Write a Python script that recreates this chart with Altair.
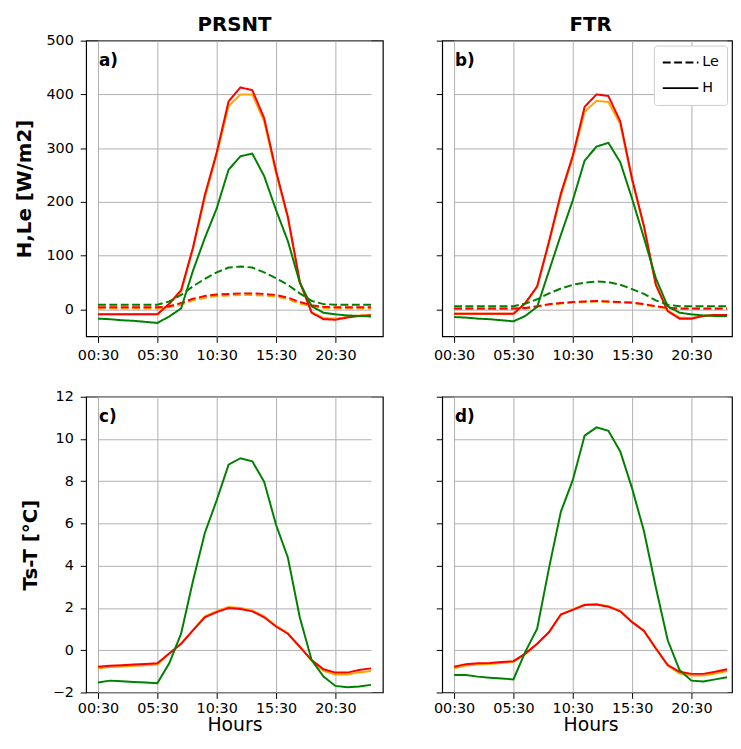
import altair as alt
import pandas as pd

hours = ["00:30", "01:30", "02:30", "03:30", "04:30", "05:30", "06:30", "07:30",
         "08:30", "09:30", "10:30", "11:30", "12:30", "13:30", "14:30", "15:30",
         "16:30", "17:30", "18:30", "19:30", "20:30", "21:30", "22:30", "23:30"]
tick_hours = ["00:30", "05:30", "10:30", "15:30", "20:30"]
series = ["orange", "red", "green"]
series_colors = ["orange", "red", "green"]
kinds = ["Le", "H"]

# Panel a (PRSNT) fluxes
H_a = {
    "orange": [-9, -9, -9, -9, -9, -9, 10, 33, 113, 208, 288, 378, 400, 400, 350, 253, 170, 50, -5, -16, -17, -14, -11, -10],
    "red":    [-9, -9, -9, -9, -9, -9, 11, 36, 115, 213, 292, 387, 413, 408, 356, 258, 172, 52, -6, -18, -19, -15, -12, -11],
    "green":  [-17, -18, -20, -21, -23, -25, -13, 2, 72, 133, 188, 260, 285, 290, 248, 185, 127, 50, 6, -6, -9, -11, -12, -13],
}
Le_a = {
    "orange": [2, 2, 2, 2, 2, 2, 4, 9, 17, 22, 25, 26, 27, 27, 26, 24, 19, 11, 6, 3, 2, 2, 2, 2],
    "red":    [4, 4, 4, 4, 4, 4, 6, 12, 20, 25, 28, 29, 30, 30, 29, 27, 22, 14, 8, 5, 4, 4, 4, 4],
    "green":  [9, 9, 9, 9, 9, 9, 15, 27, 43, 57, 69, 78, 80, 78, 69, 58, 46, 30, 16, 10, 9, 9, 9, 9],
}
# Panel b (FTR) fluxes
H_b = {
    "orange": [-8, -8, -8, -8, -8, -8, 11, 42, 124, 212, 282, 368, 388, 386, 345, 240, 153, 46, -2, -15, -16, -12, -10, -10],
    "red":    [-8, -8, -8, -8, -8, -8, 12, 43, 127, 216, 286, 377, 400, 397, 350, 243, 155, 46, -3, -17, -17, -12, -10, -10],
    "green":  [-14, -15, -17, -18, -20, -22, -12, 5, 72, 139, 203, 277, 303, 310, 274, 206, 133, 58, 6, -6, -9, -11, -12, -12],
}
Le_b = {
    "orange": [1, 1, 1, 1, 1, 1, 2, 5, 9, 11, 13, 14, 15, 14, 13, 12, 9, 5, 2, 1, 1, 1, 1, 1],
    "red":    [2, 2, 2, 2, 2, 2, 3, 6, 10, 12, 14, 15, 16, 15, 14, 13, 10, 6, 3, 2, 2, 2, 2, 2],
    "green":  [6, 6, 6, 6, 6, 6, 11, 19, 30, 39, 46, 50, 52, 51, 46, 38, 29, 17, 9, 6, 6, 6, 6, 6],
}
# Panel c (PRSNT) Ts-T
T_c = {
    "orange": [-0.85, -0.80, -0.77, -0.74, -0.71, -0.68, -0.15, 0.30, 0.95, 1.60, 1.85, 2.05, 2.00, 1.88, 1.60, 1.15, 0.80, 0.18, -0.50, -0.98, -1.15, -1.15, -1.05, -0.98],
    "red":    [-0.78, -0.74, -0.71, -0.68, -0.65, -0.62, -0.15, 0.31, 0.94, 1.56, 1.80, 2.00, 1.95, 1.84, 1.56, 1.12, 0.78, 0.16, -0.47, -0.90, -1.06, -1.06, -0.94, -0.86],
    "green":  [-1.53, -1.44, -1.47, -1.50, -1.53, -1.56, -0.62, 0.78, 3.28, 5.55, 7.10, 8.78, 9.09, 8.94, 7.97, 5.94, 4.38, 1.56, -0.47, -1.25, -1.69, -1.75, -1.72, -1.64],
}
# Panel d (FTR) Ts-T
T_d = {
    "orange": [-0.85, -0.72, -0.68, -0.65, -0.60, -0.55, -0.18, 0.30, 0.85, 1.70, 1.93, 2.17, 2.18, 2.08, 1.86, 1.35, 0.92, 0.10, -0.72, -1.10, -1.20, -1.20, -1.10, -0.98],
    "red":    [-0.78, -0.66, -0.62, -0.60, -0.56, -0.52, -0.16, 0.31, 0.86, 1.69, 1.91, 2.14, 2.16, 2.06, 1.84, 1.33, 0.91, 0.08, -0.70, -1.02, -1.12, -1.12, -1.02, -0.90],
    "green":  [-1.17, -1.17, -1.25, -1.30, -1.34, -1.38, -0.08, 1.02, 3.90, 6.56, 8.05, 10.16, 10.55, 10.39, 9.41, 7.66, 5.63, 2.97, 0.47, -0.94, -1.44, -1.48, -1.38, -1.28],
}

panel_titles = ["PRSNT", "FTR"]
panel_labels = ["a)", "b)", "c)", "d)"]
flux_ticks = [0, 100, 200, 300, 400, 500]
temp_ticks = [-2, 0, 2, 4, 6, 8, 10, 12]

FONT = "DejaVu Sans"
W, H = 300, 299          # left panels
W_RIGHT = 293            # right panels are cut by the page edge, as in the original
X_RANGE = [12, 288]      # same hour positions in every panel

color_scale = alt.Scale(domain=series, range=series_colors)
dash_scale = alt.Scale(domain=kinds, range=[[8, 3.5], [1, 0]])


def x_enc(bottom):
    return alt.X("hour:N", sort=hours,
                 scale=alt.Scale(type="point", domain=hours, range=X_RANGE, padding=0),
                 axis=alt.Axis(values=tick_hours, labelAngle=0, grid=True,
                               title="Hours" if bottom else None,
                               titleFontWeight="normal", titleFontSize=19,
                               titlePadding=1, labelPadding=3 if bottom else 6))


def text_layer(text, x, y, size, align):
    return alt.Chart(pd.DataFrame({"t": [text]})).mark_text(
        align=align, baseline="alphabetic", font=FONT, fontSize=size,
        fontWeight="bold", color="black").encode(
        text="t:N", x=alt.value(x), y=alt.value(y))


def flux_panel(Hd, Led, label, title, left, legend, width):
    layers = []
    for s in series:
        rows = []
        for k, d in (("Le", Led), ("H", Hd)):
            for h, v in zip(hours, d[s]):
                rows.append({"hour": h, "value": v, "series": s, "kind": k})
        df = pd.DataFrame(rows)
        if legend:
            leg = alt.Legend(title=None, orient="none", legendX=214, legendY=5,
                             symbolType="stroke", symbolSize=1296,
                             symbolStrokeWidth=2, symbolStrokeColor="black",
                             clipHeight=18, rowPadding=8, padding=8,
                             labelOffset=3, labelFont=FONT, labelFontSize=14.5,
                             labelColor="black", fillColor="white",
                             strokeColor="#cccccc", cornerRadius=3)
        else:
            leg = None
        layers.append(alt.Chart(df).mark_line(strokeWidth=2).encode(
            x=x_enc(False),
            y=alt.Y("value:Q", scale=alt.Scale(domain=[-50, 500], nice=False, zero=False),
                    axis=alt.Axis(values=flux_ticks, grid=True, labels=left,
                                  title="H,Le [W/m2]" if left else None,
                                  titleFontWeight="bold", titleFontSize=20,
                                  titlePadding=12, labelPadding=7)),
            color=alt.Color("series:N", scale=color_scale, legend=None),
            strokeDash=alt.StrokeDash("kind:N", scale=dash_scale, legend=leg),
            detail="kind:N",
        ))
    layers.append(text_layer(label, 13, 26, 17, "left"))
    layers.append(text_layer(title, 150, -10, 20, "center"))
    return alt.layer(*layers).properties(width=width, height=H)


def temp_panel(Td, label, left, width):
    layers = []
    for s in series:
        df = pd.DataFrame({"hour": hours, "value": Td[s], "series": s})
        layers.append(alt.Chart(df).mark_line(strokeWidth=2).encode(
            x=x_enc(True),
            y=alt.Y("value:Q", scale=alt.Scale(domain=[-2, 12], nice=False, zero=False),
                    axis=alt.Axis(values=temp_ticks, grid=True, labels=left,
                                  title="Ts-T [°C]" if left else None,
                                  titleFontWeight="bold", titleFontSize=20,
                                  titlePadding=12, labelPadding=7)),
            color=alt.Color("series:N", scale=color_scale, legend=None),
        ))
    layers.append(text_layer(label, 13, 26, 17, "left"))
    return alt.layer(*layers).properties(width=width, height=H)


pa = flux_panel(H_a, Le_a, panel_labels[0], panel_titles[0], True, False, W)
pb = flux_panel(H_b, Le_b, panel_labels[1], panel_titles[1], False, True, W_RIGHT)
pc = temp_panel(T_c, panel_labels[2], True, W)
pd_ = temp_panel(T_d, panel_labels[3], False, W_RIGHT)

chart = alt.concat(pa, pb, pc, pd_, columns=2, bounds="flush",
                   spacing={"row": 61, "column": 60}).resolve_scale(
    strokeDash="independent", color="independent"
).resolve_legend(
    strokeDash="independent", color="independent"
).properties(
    autosize=alt.AutoSizeParams(type="none"),
    padding={"left": 79, "top": 29, "right": 654, "bottom": 699},
    background="white"
).configure_view(
    stroke="black", strokeWidth=1.2
).configure_axis(
    domain=False, tickColor="black", tickSize=6, tickWidth=1,
    labelFont=FONT, labelFontSize=14.5, labelColor="black",
    gridColor="#b0b0b0", gridWidth=1,
    titleFont=FONT, titleColor="black"
)

chart.save("out.html", embed_options={"renderer": "svg", "actions": False})
